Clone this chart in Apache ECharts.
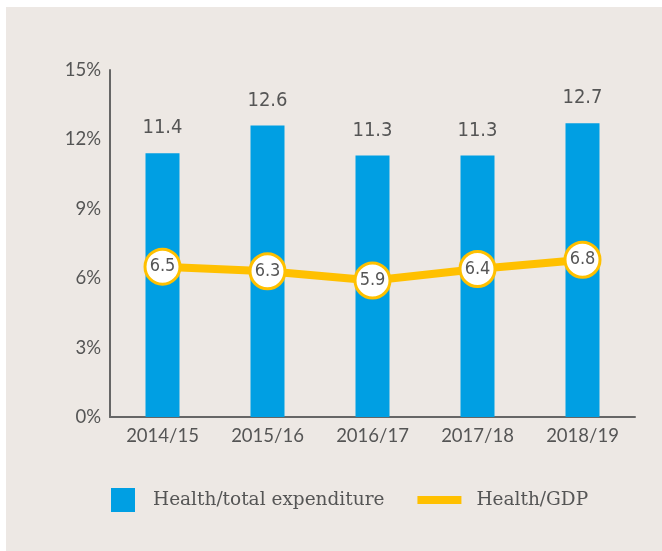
<!DOCTYPE html>
<html>
<head>
<meta charset="utf-8">
<script src="https://cdn.jsdelivr.net/npm/echarts@6/dist/echarts.min.js"></script>
<style>
  html, body { margin: 0; padding: 0; background: #ffffff; }
  #main { width: 662px; height: 551px; }
</style>
</head>
<body>
<div id="main"></div>
<script>
// chart data
var years = ['2014/15', '2015/16', '2016/17', '2017/18', '2018/19'];
var healthTotal = [11.4, 12.6, 11.3, 11.3, 12.7];
var healthGdp = [6.5, 6.3, 5.9, 6.4, 6.8];

var chart = echarts.init(document.getElementById('main'), null, { renderer: 'canvas' });

// condensed face for the value labels (falls back to regular if missing)
var narrowFont = { fontStyle: 'condensed', fontFamily: '"DejaVu Sans"' };

var option = {
  animation: false,
  backgroundColor: '#ffffff',
  graphic: [
    { type: 'rect', z: -10, shape: { x: 6, y: 7, width: 656, height: 544 }, style: { fill: '#ede8e4' } }
  ],
  grid: { left: 110, right: 27, top: 70, bottom: 134 },
  legend: {
    top: 483,
    left: 106,
    itemGap: 33,
    itemWidth: 44,
    itemHeight: 24,
    textStyle: { fontFamily: '"DejaVu Serif", serif', fontSize: 18.5, color: '#555555' },
    data: [
      { name: 'Health/total expenditure', icon: 'path://M0,0 L24,0 L24,24 L0,24 Z',
        textStyle: { padding: [0, 0, 0, 3] } },
      { name: 'Health/GDP', icon: 'path://M0,8 L44,8 L44,16 L0,16 Z',
        itemStyle: { color: '#ffc000', borderWidth: 0 },
        textStyle: { padding: [0, 0, 0, 10] } }
    ]
  },
  xAxis: {
    type: 'category',
    data: years,
    axisLine: { lineStyle: { color: '#666666', width: 2 } },
    axisTick: { show: false },
    axisLabel: { color: '#555555', fontSize: 18.5, fontFamily: 'Lato, sans-serif', margin: 10 }
  },
  yAxis: {
    type: 'value',
    min: 0,
    max: 15,
    interval: 3,
    splitLine: { show: false },
    axisLine: { show: true, lineStyle: { color: '#666666', width: 2 } },
    axisTick: { show: false },
    axisLabel: { color: '#555555', fontSize: 18.5, fontFamily: 'Lato, sans-serif', margin: 9, formatter: '{value}%' }
  },
  series: [
    {
      name: 'Health/total expenditure',
      type: 'bar',
      data: healthTotal,
      barWidth: 34,
      itemStyle: { color: '#009fe3' },
      label: {
        show: true,
        position: 'top',
        distance: 15,
        color: '#555555',
        fontSize: 20,
        fontStyle: narrowFont.fontStyle,
        fontFamily: narrowFont.fontFamily
      }
    },
    {
      name: 'Health/GDP',
      type: 'line',
      data: healthGdp,
      z: 5,
      symbol: 'circle',
      symbolSize: 35,
      lineStyle: { color: '#ffc000', width: 8 },
      itemStyle: { color: '#ffffff', borderColor: '#ffc000', borderWidth: 3 },
      label: {
        show: true,
        position: 'inside',
        color: '#555555',
        fontSize: 18,
        fontStyle: narrowFont.fontStyle,
        fontFamily: narrowFont.fontFamily
      }
    }
  ]
};

chart.setOption(option);
</script>
</body>
</html>
